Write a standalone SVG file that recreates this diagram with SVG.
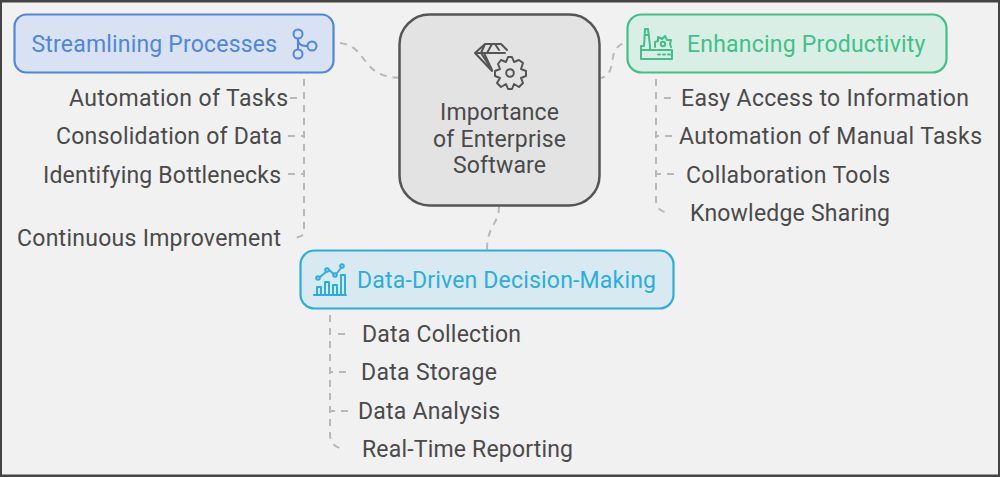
<svg xmlns="http://www.w3.org/2000/svg" width="1000" height="477" viewBox="0 0 1000 477">
<style>
text{font-family:Roboto,"Liberation Sans",sans-serif;font-size:23px;fill:#4a4a4a}
.c{fill:none;stroke:#b9b9b9;stroke-width:2;stroke-dasharray:7 6}
.ic{fill:none;stroke-width:2;stroke-linecap:round;stroke-linejoin:round}
</style>
<rect x="0" y="0" width="1000" height="477" fill="#444"/>
<rect x="2" y="2.500" width="996" height="472" fill="#f1f1f1"/>
<g id="connectors">
<path class="c" d="M340 43C356 45 360 55 367 63C374 72 382 78 405 78"/>
<path class="c" d="M598 78C612 78 611 65 613 57C614 50 618 45 624 43"/>
<path class="c" d="M499 206C499 225 487 225 487 250"/>
<path class="c" d="M304 66V232Q304 237 293 238"/>
<path class="c" d="M290 98H297M288 136H304M288 174H304"/>
<path class="c" d="M656 66V200Q656 212 670 213"/>
<path class="c" d="M671 98H664M672 136H656M674 174H656"/>
<path class="c" d="M330 302V434Q330 447 344 449"/>
<path class="c" d="M345 334H338M346 372H330M348 411H330"/>
</g>
<g id="center">
<rect x="399.500" y="14.500" width="200" height="191" rx="30" fill="#e3e3e3" stroke="#555" stroke-width="2.500"/>
<g class="ic" stroke="#555">
<path d="M507 50L501 44H485L475 53L492 71M475 53H505M485 44L481 53L492 70M495 44L499 50M492 44L487 53M484 53L492 70"/>
<path d="M508 57L512 57L514 62L519 60L523 63L521 69L526 71V76L521 78L523 83L519 87L514 84L512 89H508L506 84L501 87L497 83L500 78L495 76V71L500 69L498 64L501 60L506 62Z"/>
<circle cx="510" cy="73" r="3.800"/>
</g>
<text x="440" y="120" textLength="119">Importance</text>
<text x="433" y="147" textLength="133">of Enterprise</text>
<text x="453" y="173" textLength="93">Software</text>
</g>
<g id="streamlining">
<rect x="14.500" y="14.500" width="319" height="58" rx="12" fill="#d8e2f3" stroke="#4f86e0" stroke-width="2.200"/>
<text x="31.500" y="52" textLength="245.500" style="fill:#4f86e0">Streamlining Processes</text>
<g class="ic" stroke="#4f86e0"><circle cx="298" cy="34" r="4.500"/><circle cx="298" cy="54" r="4.500"/><circle cx="312" cy="46" r="4.500"/><path d="M298 39V49M298 41Q299 46 307 46"/></g>
</g>
<g id="productivity">
<rect x="627.500" y="14.500" width="319" height="58" rx="14" fill="#d9efe5" stroke="#41c08a" stroke-width="2.200"/>
<text x="687" y="52" textLength="238.500" style="fill:#41c08a">Enhancing Productivity</text>
<g class="ic" stroke="#41c08a"><path d="M641 59V46H644L645 29H648L650 46V50H672V59ZM641 50H650M645 35H649M658 54.500H660M663 54.500H665M668 54.500H670"/><path d="M655 47L655 42L658 41L658 37L662 39L665 36L667 40L671 40L670 44L671 47"/><circle cx="663" cy="44" r="2.200"/></g>
</g>
<g id="data">
<rect x="300.500" y="250.500" width="373" height="58" rx="14" fill="#d8e9f2" stroke="#2aaee0" stroke-width="2.200"/>
<text x="357" y="288" textLength="299" style="fill:#2aaee0">Data-Driven Decision-Making</text>
<g class="ic" stroke="#2aaee0"><path d="M314 295H346M317 295V287H321V295M325 295V282H329V295M333 295V285H337V295M341 295V275H345V295"/><path d="M320 277L326 272M329 270L334 274M337 273L341 268"/><circle cx="318" cy="278" r="1.800"/><circle cx="327" cy="270" r="1.800"/><circle cx="335" cy="275" r="1.800"/><circle cx="342" cy="266" r="1.800"/></g>
</g>
<g id="s1"><text x="69" y="106" textLength="219">Automation of Tasks</text></g>
<g id="s2"><text x="56" y="144" textLength="226">Consolidation of Data</text></g>
<g id="s3"><text x="43" y="183" textLength="238">Identifying Bottlenecks</text></g>
<g id="s4"><text x="17" y="246" textLength="264">Continuous Improvement</text></g>
<g id="p1"><text x="681" y="106" textLength="288">Easy Access to Information</text></g>
<g id="p2"><text x="679" y="144" textLength="303">Automation of Manual Tasks</text></g>
<g id="p3"><text x="686" y="183" textLength="204">Collaboration Tools</text></g>
<g id="p4"><text x="690" y="221" textLength="200">Knowledge Sharing</text></g>
<g id="d1"><text x="362" y="342" textLength="159">Data Collection</text></g>
<g id="d2"><text x="361" y="380" textLength="136">Data Storage</text></g>
<g id="d3"><text x="358" y="419" textLength="142">Data Analysis</text></g>
<g id="d4"><text x="362" y="457" textLength="211">Real-Time Reporting</text></g>
</svg>
